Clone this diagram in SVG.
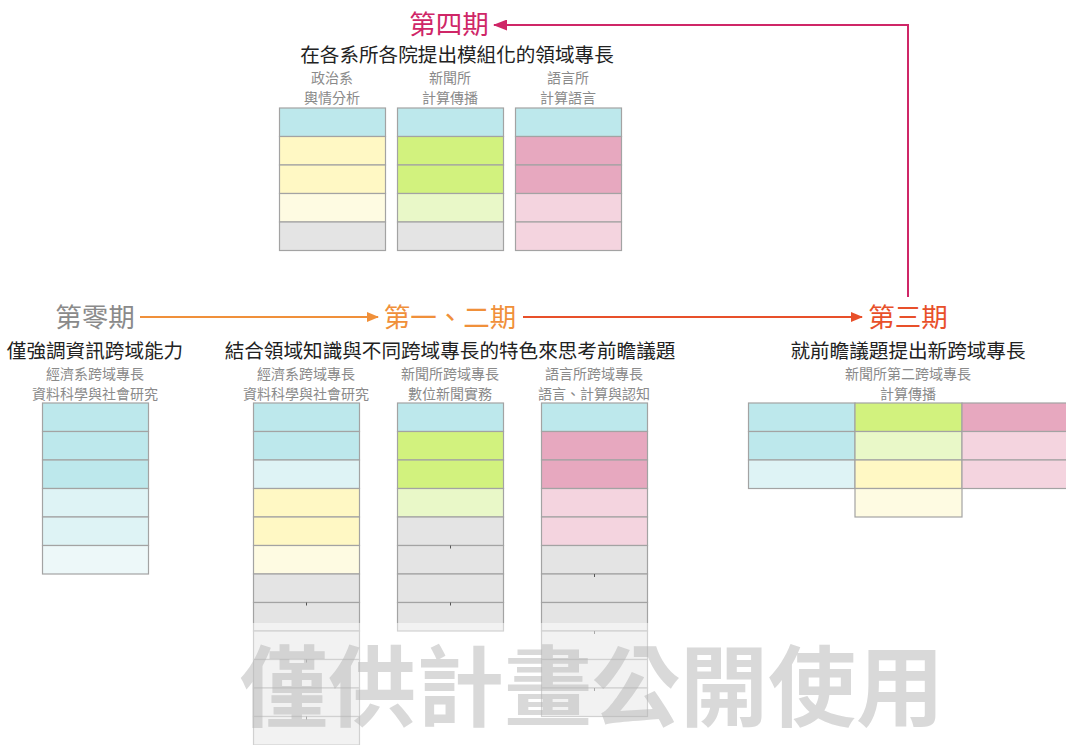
<svg xmlns="http://www.w3.org/2000/svg" width="1066" height="745" viewBox="0 0 1066 745">
<defs>
<style>
text{font-family:"Noto Sans CJK TC","Noto Sans CJK SC",sans-serif;text-anchor:middle;dominant-baseline:central}
.ph{font-size:26.5px}
.sub{font-size:19.6px;fill:#222}
.lab{font-size:14px;fill:#8a8a8a}
rect{stroke:#a3a3a3;stroke-width:1.2}
.bg{stroke:none}
.c1{fill:#bde8ec}.c2{fill:#def3f5}.c3{fill:#edf8f9}
.y1{fill:#fff8c4}.y2{fill:#fefbe2}
.g1{fill:#d2f27e}.g2{fill:#e9f8c8}
.p1{fill:#e7a8bf}.p2{fill:#f4d4df}
.gr{fill:#e4e4e4}
.tick{stroke:#555;stroke-width:1}
</style>
<marker id="aO" markerWidth="12" markerHeight="10" refX="11" refY="5" orient="auto" markerUnits="userSpaceOnUse"><path d="M0,0 L12,5 L0,10 z" fill="#f0903a"/></marker>
<marker id="aR" markerWidth="12" markerHeight="10" refX="11" refY="5" orient="auto" markerUnits="userSpaceOnUse"><path d="M0,0 L12,5 L0,10 z" fill="#e8502a"/></marker>
<marker id="aC" markerWidth="14" markerHeight="11" refX="13" refY="5.5" orient="auto" markerUnits="userSpaceOnUse"><path d="M0,0 L14,5.5 L0,11 z" fill="#cf2667"/></marker>
</defs>
<rect class="bg" x="0" y="0" width="1066" height="745" fill="#fff"/>

<g id="connectors" fill="none" stroke-width="2">
<path d="M140,317 H378" stroke="#f0903a" marker-end="url(#aO)"/>
<path d="M523,317 H862" stroke="#e8502a" marker-end="url(#aR)"/>
<path d="M908,297 V25 H494" stroke="#cf2667" marker-end="url(#aC)"/>
</g>

<g id="phase4">
<text class="ph" x="449" y="22" fill="#cf2667">第四期</text>
<text class="sub" x="457" y="53">在各系所各院提出模組化的領域專長</text>
<g id="p4-col1">
<text class="lab" x="332" y="77">政治系</text>
<text class="lab" x="332" y="97">輿情分析</text>
<rect x="279.5" y="108" width="106" height="28.5" class="c1"/>
<rect x="279.5" y="136.5" width="106" height="28.5" class="y1"/>
<rect x="279.5" y="165" width="106" height="28.5" class="y1"/>
<rect x="279.5" y="193.5" width="106" height="28.5" class="y2"/>
<rect x="279.5" y="222" width="106" height="28.5" class="gr"/>
</g>
<g id="p4-col2">
<text class="lab" x="450" y="77">新聞所</text>
<text class="lab" x="450" y="97">計算傳播</text>
<rect x="397.5" y="108" width="106" height="28.5" class="c1"/>
<rect x="397.5" y="136.5" width="106" height="28.5" class="g1"/>
<rect x="397.5" y="165" width="106" height="28.5" class="g1"/>
<rect x="397.5" y="193.5" width="106" height="28.5" class="g2"/>
<rect x="397.5" y="222" width="106" height="28.5" class="gr"/>
</g>
<g id="p4-col3">
<text class="lab" x="568" y="77">語言所</text>
<text class="lab" x="568" y="97">計算語言</text>
<rect x="515.5" y="108" width="106" height="28.5" class="c1"/>
<rect x="515.5" y="136.5" width="106" height="28.5" class="p1"/>
<rect x="515.5" y="165" width="106" height="28.5" class="p1"/>
<rect x="515.5" y="193.5" width="106" height="28.5" class="p2"/>
<rect x="515.5" y="222" width="106" height="28.5" class="p2"/>
</g>
</g>

<g id="phase0">
<text class="ph" x="95" y="315" fill="#8a8a8a">第零期</text>
<text class="sub" x="95" y="349">僅強調資訊跨域能力</text>
<text class="lab" x="95" y="373">經濟系跨域專長</text>
<text class="lab" x="95" y="393">資料科學與社會研究</text>
<rect x="42.5" y="403" width="106" height="28.5" class="c1"/>
<rect x="42.5" y="431.5" width="106" height="28.5" class="c1"/>
<rect x="42.5" y="460" width="106" height="28.5" class="c1"/>
<rect x="42.5" y="488.5" width="106" height="28.5" class="c2"/>
<rect x="42.5" y="517" width="106" height="28.5" class="c2"/>
<rect x="42.5" y="545.5" width="106" height="28.5" class="c3"/>
</g>

<g id="phase12">
<text class="ph" x="450" y="315" fill="#f0903a">第一、二期</text>
<text class="sub" x="450" y="349">結合領域知識與不同跨域專長的特色來思考前瞻議題</text>
<g id="p12-col1">
<text class="lab" x="306" y="373">經濟系跨域專長</text>
<text class="lab" x="306" y="393">資料科學與社會研究</text>
<rect x="253.5" y="403" width="106" height="28.5" class="c1"/>
<rect x="253.5" y="431.5" width="106" height="28.5" class="c1"/>
<rect x="253.5" y="460" width="106" height="28.5" class="c2"/>
<rect x="253.5" y="488.5" width="106" height="28.5" class="y1"/>
<rect x="253.5" y="517" width="106" height="28.5" class="y1"/>
<rect x="253.5" y="545.5" width="106" height="28.5" class="y2"/>
<rect x="253.5" y="574" width="106" height="28.5" class="gr"/>
<rect x="253.5" y="602.5" width="106" height="28.5" class="gr"/>
<rect x="253.5" y="631" width="106" height="28.5" class="gr"/>
<rect x="253.5" y="659.5" width="106" height="28.5" class="gr"/>
<rect x="253.5" y="688" width="106" height="28.5" class="gr"/>
<rect x="253.5" y="716.5" width="106" height="28.5" class="gr"/>
<path class="tick" d="M306.5,602.5v3M306.5,659.5v3M306.5,716.5v3"/>
</g>
<g id="p12-col2">
<text class="lab" x="450" y="373">新聞所跨域專長</text>
<text class="lab" x="450" y="393">數位新聞實務</text>
<rect x="397.5" y="403" width="106" height="28.5" class="c1"/>
<rect x="397.5" y="431.5" width="106" height="28.5" class="g1"/>
<rect x="397.5" y="460" width="106" height="28.5" class="g1"/>
<rect x="397.5" y="488.5" width="106" height="28.5" class="g2"/>
<rect x="397.5" y="517" width="106" height="28.5" class="gr"/>
<rect x="397.5" y="545.5" width="106" height="28.5" class="gr"/>
<rect x="397.5" y="574" width="106" height="28.5" class="gr"/>
<rect x="397.5" y="602.5" width="106" height="28.5" class="gr"/>
<path class="tick" d="M450.5,545.5v3M450.5,602.5v3"/>
</g>
<g id="p12-col3">
<text class="lab" x="594" y="373">語言所跨域專長</text>
<text class="lab" x="594" y="393">語言、計算與認知</text>
<rect x="541.5" y="403" width="106" height="28.5" class="c1"/>
<rect x="541.5" y="431.5" width="106" height="28.5" class="p1"/>
<rect x="541.5" y="460" width="106" height="28.5" class="p1"/>
<rect x="541.5" y="488.5" width="106" height="28.5" class="p2"/>
<rect x="541.5" y="517" width="106" height="28.5" class="p2"/>
<rect x="541.5" y="545.5" width="106" height="28.5" class="gr"/>
<rect x="541.5" y="574" width="106" height="28.5" class="gr"/>
<rect x="541.5" y="602.5" width="106" height="28.5" class="gr"/>
<rect x="541.5" y="631" width="106" height="28.5" class="gr"/>
<rect x="541.5" y="659.5" width="106" height="28.5" class="gr"/>
<rect x="541.5" y="688" width="106" height="28.5" class="gr"/>
<path class="tick" d="M594.5,574v3M594.5,631v3M594.5,688v3"/>
</g>
</g>

<g id="phase3">
<text class="ph" x="908" y="315" fill="#e8502a">第三期</text>
<text class="sub" x="908" y="349">就前瞻議題提出新跨域專長</text>
<text class="lab" x="908" y="373">新聞所第二跨域專長</text>
<text class="lab" x="908" y="393">計算傳播</text>
<rect x="748.5" y="403" width="106.5" height="28.5" class="c1"/>
<rect x="748.5" y="431.5" width="106.5" height="28.5" class="c1"/>
<rect x="748.5" y="460" width="106.5" height="28.5" class="c2"/>
<rect x="855" y="403" width="107" height="28.5" class="g1"/>
<rect x="855" y="431.5" width="107" height="28.5" class="g2"/>
<rect x="855" y="460" width="107" height="28.5" class="y1"/>
<rect x="855" y="488.5" width="107" height="28.5" class="y2"/>
<rect x="962" y="403" width="110" height="28.5" class="p1"/>
<rect x="962" y="431.5" width="110" height="28.5" class="p2"/>
<rect x="962" y="460" width="110" height="28.5" class="p2"/>
</g>

<g id="watermark">
<rect class="bg" x="0" y="623" width="1066" height="122" fill="#fff" fill-opacity="0.5"/>
<text x="592" y="680" style="font-size:88px;font-weight:bold;fill:#b4b4b4;fill-opacity:0.5">僅供計畫公開使用</text>
</g>
</svg>
